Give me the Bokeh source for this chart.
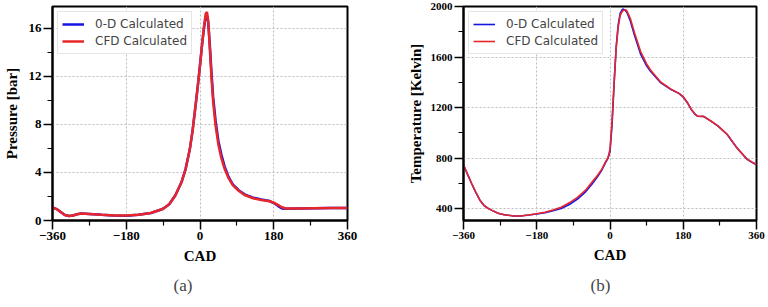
from bokeh.plotting import figure
from bokeh.layouts import row
from bokeh.models import FixedTicker, Legend, LegendItem, Title
from bokeh.embed import file_html
from bokeh.resources import INLINE

# ---------------- data ----------------
x_ticks = [-360, -180, 0, 180, 360]
x_minor = [-270, -90, 90, 270]
x_tick_labels = {-360: "\u2212360", -180: "\u2212180", 0: "0", 180: "180", 360: "360"}

p_ticks = [0, 4, 8, 12, 16]
p_minor = [2, 6, 10, 14]
t_ticks = [400, 800, 1200, 1600, 2000]
t_minor = [600, 1000, 1400, 1800]

cad_p = [-360, -350, -340, -330, -320, -310, -300, -290, -270, -240, -210, -180,
         -150, -120, -100, -90, -75, -60, -45, -35, -25, -18, -10, -5, 0, 5, 10,
         14, 17, 20, 24, 28, 32, 38, 45, 52, 60, 70, 80, 95, 110, 130, 150, 170,
         180, 190, 200, 210, 240, 280, 320, 360]
p_cfd = [1.1, 0.95, 0.7, 0.45, 0.38, 0.42, 0.52, 0.58, 0.55, 0.48, 0.42, 0.42,
         0.48, 0.62, 0.85, 0.98, 1.35, 2.1, 3.2, 4.3, 5.9, 7.5, 9.8, 11.3, 12.9, 14.6, 16.2,
         17.2, 17.35, 16.6, 14.3, 11.9, 9.9, 7.9, 6.3, 5.2, 4.3, 3.5, 2.95, 2.45, 2.1, 1.85, 1.7, 1.6,
         1.48, 1.3, 1.1, 1.0, 1.0, 1.02, 1.03, 1.03]
p_0d = [1.1, 0.95, 0.7, 0.45, 0.38, 0.42, 0.52, 0.58, 0.55, 0.48, 0.42, 0.40,
        0.48, 0.62, 0.85, 0.98, 1.35, 2.1, 3.2, 4.3, 5.9, 7.5, 9.8, 11.3, 12.9, 14.6, 16.1,
        16.95, 17.05, 16.5, 14.6, 12.3, 10.3, 8.3, 6.6, 5.5, 4.5, 3.6, 3.0, 2.5, 2.15, 1.9, 1.75, 1.62,
        1.45, 1.22, 1.0, 0.98, 1.0, 1.02, 1.03, 1.03]

cad_t = [-360, -350, -340, -330, -320, -310, -300, -290, -275, -260, -240, -220,
         -200, -180, -160, -140, -120, -100, -80, -60, -45, -30, -20, -10, -5, 0,
         5, 10, 15, 20, 25, 30, 33, 38, 42, 50, 60, 75, 90, 100, 125, 150, 170, 180,
         190, 200, 210, 215, 230, 247, 265, 288, 312, 337, 350, 360]
t_cfd = [745, 670, 598, 530, 468, 425, 402, 385, 362, 350, 342, 341,
         348, 358, 370, 388, 410, 445, 488, 545, 605, 665, 712, 775, 800, 870,
         1090, 1390, 1665, 1835, 1930, 1962, 1970, 1975, 1962, 1905, 1795, 1645, 1545, 1495, 1400, 1345, 1312, 1285,
         1240, 1185, 1145, 1132, 1130, 1095, 1055, 987, 880, 790, 765, 748]
t_0d = [745, 670, 598, 530, 468, 425, 402, 385, 362, 350, 342, 341,
        348, 356, 366, 383, 400, 432, 475, 532, 590, 655, 705, 770, 798, 850,
        1060, 1380, 1670, 1850, 1945, 1975, 1980, 1968, 1950, 1885, 1775, 1625, 1530, 1485, 1395, 1342, 1310, 1283,
        1238, 1183, 1143, 1131, 1129, 1094, 1054, 986, 879, 789, 764, 747]

BLUE = "#1414e6"
RED = "#e8262a"
SERIF = "Liberation Serif"


def make_fig(xs, ys_blue, ys_red, y_range, yticks, yminor, ylabel, caption,
             width_line, border_left, border_right, border_top, tick_font, cap_offset,
             lab_standoff, cap_standoff):
    p = figure(width=384, height=307, x_range=(-360, 360), y_range=y_range,
               output_backend="svg", toolbar_location=None,
               min_border_left=border_left, min_border_right=border_right,
               min_border_top=border_top, min_border_bottom=87)
    p.outline_line_color = "black"
    p.outline_line_width = 2
    p.outline_line_alpha = 1
    for ax in (p.xaxis[0], p.yaxis[0]):
        ax.axis_line_width = 2
        ax.major_tick_line_width = 1.5
        ax.minor_tick_line_width = 1.2
        ax.major_tick_out = 9
        ax.major_tick_in = 0
        ax.minor_tick_out = 5
        ax.minor_tick_in = 0
        ax.major_label_text_font = SERIF
        ax.major_label_text_font_style = "bold"
        ax.major_label_text_font_size = tick_font
        ax.major_label_text_color = "black"
        ax.axis_label_text_font = SERIF
        ax.axis_label_text_font_style = "bold"
        ax.axis_label_text_font_size = "15px"
        ax.axis_label_text_color = "black"
        ax.major_label_standoff = 2
    p.xaxis.ticker = FixedTicker(ticks=x_ticks, minor_ticks=x_minor)
    p.xaxis.major_label_overrides = x_tick_labels
    p.xaxis.axis_label = "CAD"
    p.xaxis.axis_label_standoff = 5
    p.yaxis.ticker = FixedTicker(ticks=yticks, minor_ticks=yminor)
    p.yaxis.axis_label = ylabel
    p.yaxis.axis_label_standoff = lab_standoff

    for g in (p.xgrid[0], p.ygrid[0]):
        g.grid_line_color = "#bdbdbd"
        g.grid_line_dash = "2 2"
        g.grid_line_width = 1

    rb = p.line(xs, ys_blue, line_color=BLUE, line_width=width_line)
    rr = p.line(xs, ys_red, line_color=RED, line_width=width_line)

    legend = Legend(items=[LegendItem(label="0-D Calculated", renderers=[rb]),
                           LegendItem(label="CFD Calculated", renderers=[rr])],
                    location="top_left", margin=5, padding=4, spacing=1,
                    glyph_width=22, glyph_height=16, label_height=16,
                    label_standoff=11, label_text_font="DejaVu Sans",
                    label_text_font_size="12px", border_line_color="#cccccc",
                    border_line_width=1, background_fill_alpha=1)
    p.add_layout(legend)

    cap = Title(text=caption, align="left", vertical_align="top", text_font=SERIF,
                text_font_size="17px", text_font_style="normal",
                standoff=cap_standoff, offset=cap_offset)
    p.add_layout(cap, "below")
    return p


p1 = make_fig(cad_p, p_0d, p_cfd, (0, 17.8), p_ticks, p_minor, "Pressure [bar]", "(a)",
              2.5, 48, 37, 3, "13px", 121, 6, 19)
p2 = make_fig(cad_t, t_0d, t_cfd, (305, 2000), t_ticks, t_minor, "Temperature [Kelvin]", "(b)",
              1.6, 79, 12, 6, "11px", 127, 4, 21)

layout = row(p1, p2)
open("out.html", "w").write(file_html(layout, INLINE))
